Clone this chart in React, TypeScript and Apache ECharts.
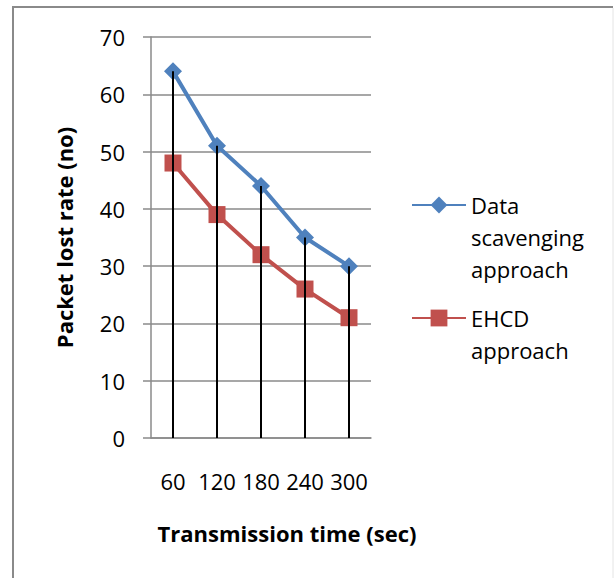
import React, { useEffect, useRef } from "react";
import * as echarts from "echarts";

const categories = ["60", "120", "180", "240", "300"];
const dataScavenging = [64, 51, 44, 35, 30];
const ehcdApproach = [48, 39, 32, 26, 21];
const seriesNames = ["Data scavenging approach", "EHCD approach"];
const legendLines: Record<string, string[]> = {
  "Data scavenging approach": ["Data", "scavenging", "approach"],
  "EHCD approach": ["EHCD", "approach"],
};

const FONT = "Open Sans";
const GRAY = "#8a8a8a";
const BLUE = "#4F81BD";
const RED = "#C0504D";

export default function App() {
  const ref = useRef<HTMLDivElement>(null);
  useEffect(() => {
    if (!ref.current) return;
    const chart = echarts.init(ref.current, undefined, { renderer: "svg" });
    chart.setOption({
      animation: false,
      backgroundColor: "#ffffff",
      grid: { left: 151, right: 243, top: 37, bottom: 140, containLabel: false },
      graphic: [
        { type: "line", shape: { x1: 13, y1: 7, x2: 13, y2: 578 }, style: { stroke: GRAY, lineWidth: 2 } },
        { type: "line", shape: { x1: 12, y1: 7, x2: 613, y2: 7 }, style: { stroke: GRAY, lineWidth: 2 } },
        { type: "line", shape: { x1: 613, y1: 8, x2: 613, y2: 578 }, style: { stroke: "#e4e4e4", lineWidth: 1 } },
      ],
      legend: {
        orient: "vertical",
        left: 411,
        top: 125,
        padding: 0,
        itemWidth: 54,
        itemHeight: 21,
        itemGap: -15,
        data: seriesNames,
        formatter: (name: string) => {
          const lines = legendLines[name] || [name];
          const pad = new Array(lines.length - 1).fill("");
          return [...pad, ...lines].join("\n");
        },
        textStyle: { fontFamily: FONT, fontSize: 22, color: "#000", lineHeight: 32 },
      },
      xAxis: {
        type: "category",
        data: categories,
        boundaryGap: true,
        axisLine: { lineStyle: { color: GRAY, width: 1.5 } },
        axisTick: { show: false },
        axisLabel: { fontFamily: FONT, fontSize: 22, color: "#000", margin: 32, interval: 0, hideOverlap: false },
        name: "Transmission time (sec)",
        nameLocation: "middle",
        nameGap: 84,
        nameTextStyle: {
          fontFamily: FONT,
          fontSize: 22,
          fontWeight: "bold",
          color: "#000",
          padding: [0, 0, 0, 52],
        },
      },
      yAxis: {
        type: "value",
        min: 0,
        max: 70,
        interval: 10,
        axisLine: { show: true, lineStyle: { color: GRAY, width: 1.5 } },
        axisTick: { show: true, inside: false, length: 8, lineStyle: { color: GRAY, width: 1.5 } },
        splitLine: { show: true, lineStyle: { color: GRAY, width: 1.5 } },
        axisLabel: { fontFamily: FONT, fontSize: 22, color: "#000", margin: 26 },
        name: "Packet lost rate (no)",
        nameLocation: "middle",
        nameRotate: 90,
        nameGap: 76,
        nameTextStyle: { fontFamily: FONT, fontSize: 22, fontWeight: "bold", color: "#000" },
      },
      series: [
        {
          name: seriesNames[0],
          type: "line",
          data: dataScavenging,
          symbol: "diamond",
          symbolSize: 18,
          lineStyle: { color: BLUE, width: 4 },
          itemStyle: { color: BLUE },
          z: 2,
        },
        {
          name: seriesNames[1],
          type: "line",
          data: ehcdApproach,
          symbol: "rect",
          symbolSize: 17,
          lineStyle: { color: RED, width: 4 },
          itemStyle: { color: RED },
          z: 2,
        },
        {
          name: "drop lines",
          type: "bar",
          data: dataScavenging,
          barWidth: 2,
          itemStyle: { color: "#000" },
          z: 5,
          silent: true,
        },
      ],
    });
    return () => chart.dispose();
  }, []);
  return (
    <div
      ref={ref}
      style={{ position: "fixed", left: 0, top: 0, width: 614, height: 578 }}
    />
  );
}
